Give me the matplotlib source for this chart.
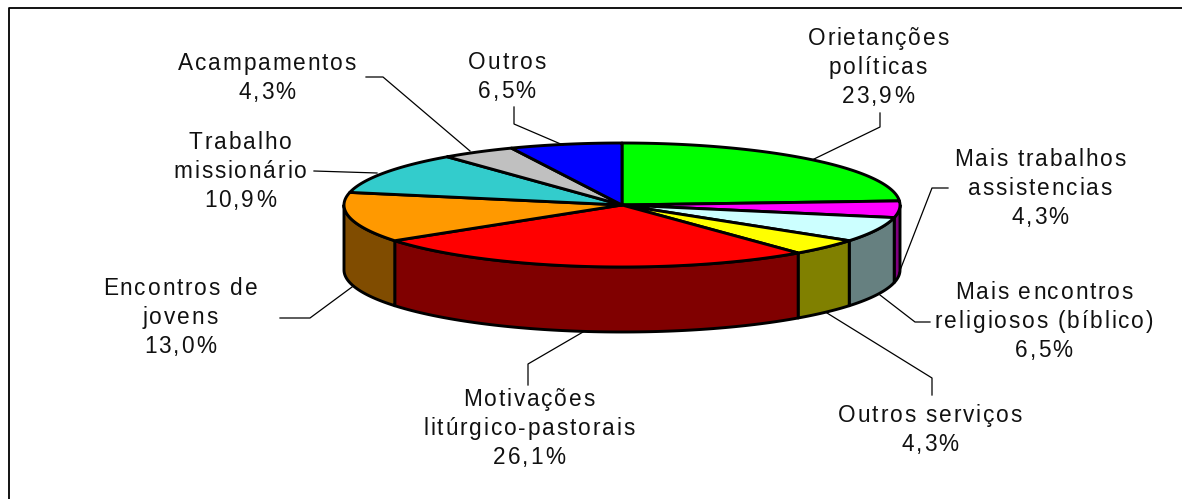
import numpy as np
import matplotlib
matplotlib.use("Agg")
import matplotlib.pyplot as plt
from matplotlib.font_manager import findfont, get_font
from matplotlib.ft2font import LoadFlags
from matplotlib.patches import Polygon
from matplotlib.text import Text
from matplotlib.transforms import Bbox

labels = ["Orietanções\npolíticas", "Mais trabalhos\nassistencias", "Mais encontros\nreligiosos (bíblico)",
          "Outros serviços", "Motivações\nlitúrgico-pastorais", "Encontros de\njovens",
          "Trabalho\nmissionário", "Acampamentos", "Outros"]
values = [23.9, 4.3, 6.5, 4.3, 26.1, 13.0, 10.9, 4.3, 6.5]
pct_labels = ["23,9%", "4,3%", "6,5%", "4,3%", "26,1%", "13,0%", "10,9%", "4,3%", "6,5%"]
top_colors = ["#00FF00", "#FF00FF", "#CCFFFF", "#FFFF00", "#FF0000", "#FF9900", "#33CCCC", "#C0C0C0", "#0000FF"]
side_colors = ["#008000", "#800080", "#668080", "#808000", "#800000", "#804C00", "#1A6666", "#606060", "#000080"]

# label centre x and top of the first line, in pixels
label_pos = [(878, 28), (1040, 149), (1044, 282), (930, 405), (529, 389), (180, 278), (240, 132), (267, 53), (507, 52)]
leaders = [
    [(880, 113), (880, 127), (812, 160)],
    [(948, 188), (932, 188), (899, 273)],
    [(930, 322), (915, 322), (880, 295)],
    [(932, 395), (932, 378), (827, 313)],
    [(528, 385), (528, 364), (583, 332)],
    [(280, 318), (310, 318), (352, 287)],
    [(314, 171), (377, 173)],
    [(366, 77), (383, 77), (470, 151)],
    [(514, 107), (514, 124), (563, 145)],
]

cx, cy = 622, 205
rx, ry = 278, 62
depth = 65
tracking = 1.9   # px between letters
line_step = 29.2
ascent = 17      # px from top of a line to its baseline


class SpacedText(Text):
    # text with extra letter spacing, each line centred on x
    def _lines(self, dpi):
        prop = self.get_fontproperties()
        font = get_font(findfont(prop))
        font.set_size(prop.get_size_in_points(), dpi)
        px, py = self.get_transform().transform((self._x, self._y))
        for k, line in enumerate(self.get_text().split("\n")):
            adv = [font.load_char(ord(c), flags=LoadFlags.NO_HINTING).linearHoriAdvance / 65536 for c in line]
            width = sum(adv) + tracking * (len(line) - 1)
            yield line, adv, px - width / 2, py - (ascent + k * line_step) * dpi / 100, width

    def draw(self, renderer):
        gc = renderer.new_gc()
        gc.set_foreground(self.get_color())
        gc.set_antialiased(True)
        for line, adv, xx, yy, width in self._lines(renderer.dpi):
            for c, a in zip(line, adv):
                if c != " ":
                    renderer.draw_text(gc, xx, renderer.height - yy, c, self.get_fontproperties(), 0, ismath=False)
                xx += a + tracking
        gc.restore()

    def get_window_extent(self, renderer=None, dpi=None):
        dpi = dpi or self.get_figure().dpi
        rows = list(self._lines(dpi))
        x0 = min(r[2] for r in rows)
        x1 = max(r[2] + r[4] for r in rows)
        size = self.get_fontproperties().get_size_in_points() * dpi / 72
        return Bbox([[x0, rows[-1][3] - 0.25 * size], [x1, rows[0][3] + 0.75 * size]])


fig = plt.figure(figsize=(11.82, 4.99), dpi=100)
ax = fig.add_axes([0, 0, 1, 1])
ax.set_xlim(0, 1182)
ax.set_ylim(499, 0)
ax.axis("off")
ax.plot([9, 9, 1182], [499, 8, 8], color="black", lw=1.3)


def rim(a0, a1):
    # angle in radians clockwise from the top of the ellipse
    t = np.linspace(a0, a1, 80)
    return cx + rx * np.sin(t), cy - ry * np.cos(t)


edges = np.cumsum([0] + values) / sum(values) * 2 * np.pi

# side wall, only where it faces the viewer
for i in range(len(values)):
    a0 = max(edges[i], np.pi / 2)
    a1 = min(edges[i + 1], 3 * np.pi / 2)
    if a1 <= a0:
        continue
    x, y = rim(a0, a1)
    pts = np.r_[np.c_[x, y], np.c_[x[::-1], y[::-1] + depth]]
    ax.add_patch(Polygon(pts, fc=side_colors[i], ec="black", lw=2.1, joinstyle="round"))

# top of the pie
for i in range(len(values)):
    x, y = rim(edges[i], edges[i + 1])
    pts = np.r_[[(cx, cy)], np.c_[x, y]]
    ax.add_patch(Polygon(pts, fc=top_colors[i], ec="black", lw=2.1, joinstyle="round"))

for pts in leaders:
    xs, ys = zip(*pts)
    ax.plot(xs, ys, color="black", lw=0.9, zorder=1)

for lab, pct, (x, y) in zip(labels, pct_labels, label_pos):
    ax.add_artist(SpacedText(x, y, lab + "\n" + pct, fontsize=16.3, family="Liberation Sans", color="#111111",
                             ha="center", va="top", linespacing=1.15))

fig.savefig("out.png", dpi=100)
